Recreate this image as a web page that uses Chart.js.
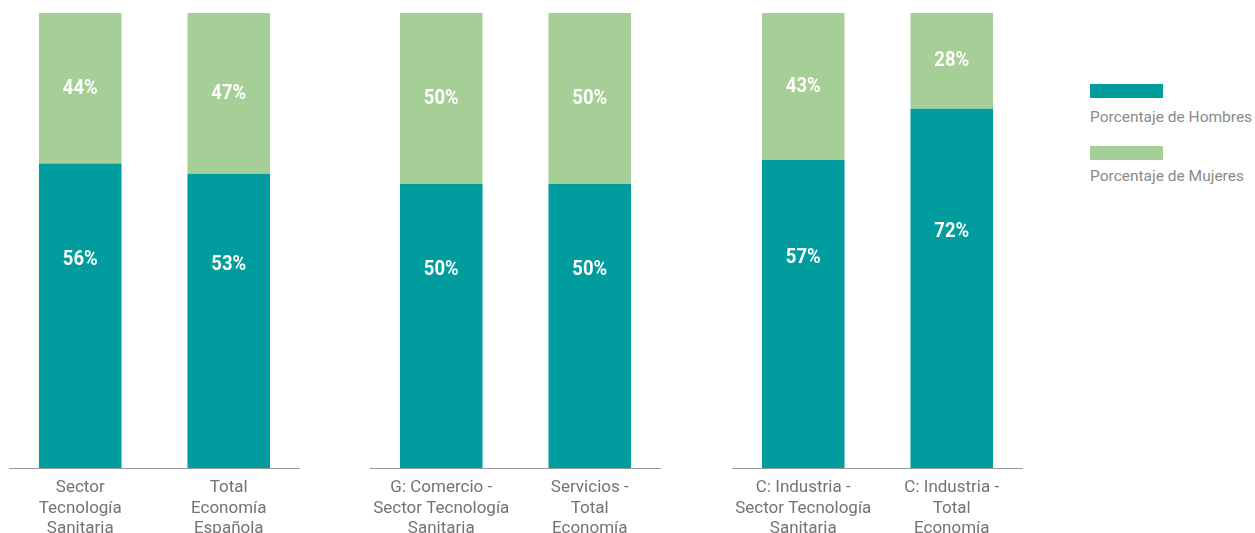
<!DOCTYPE html>
<html lang="es">
<head>
<meta charset="UTF-8">
<title>Porcentaje de hombres y mujeres</title>
<script src="https://cdn.jsdelivr.net/npm/chart.js"></script>
<style>
  html, body { margin: 0; padding: 0; background: #ffffff; overflow: hidden; }
  body { width: 1255px; height: 533px; position: relative; font-family: Roboto, "Noto Sans", sans-serif; }
  .panel { position: absolute; top: 0; }
  .swatch { position: absolute; width: 73px; height: 14px; }
  .legend-text { position: absolute; font-size: 15.5px; color: #8a8a8a; white-space: nowrap; line-height: 18px; }
</style>
</head>
<body>
  <div class="panel" style="left: 6px;"><canvas id="chart1" width="297" height="540"></canvas></div>
  <div class="panel" style="left: 367px;"><canvas id="chart2" width="297" height="540"></canvas></div>
  <div class="panel" style="left: 729px;"><canvas id="chart3" width="297" height="540"></canvas></div>

  <div class="swatch" style="left: 1090px; top: 84px; background: #009c9e;"></div>
  <div class="legend-text" style="left: 1090px; top: 108px;">Porcentaje de Hombres</div>
  <div class="swatch" style="left: 1090px; top: 146px; background: #a6cf98;"></div>
  <div class="legend-text" style="left: 1090px; top: 167px;">Porcentaje de Mujeres</div>

<script>
// categories per panel (multi-line tick labels)
const cats1 = [['Sector', 'Tecnología', 'Sanitaria'], ['Total', 'Economía', 'Española']];
const cats2 = [['G: Comercio -', 'Sector Tecnología', 'Sanitaria'], ['Servicios -', 'Total', 'Economía']];
const cats3 = [['C: Industria -', 'Sector Tecnología', 'Sanitaria'], ['C: Industria -', 'Total', 'Economía']];

// % hombres / % mujeres
const hombres1 = [56, 53];
const mujeres1 = [44, 47];
const hombres2 = [50, 50];
const mujeres2 = [50, 50];
const hombres3 = [57, 72];
const mujeres3 = [43, 28];

const TEAL = '#009c9e';
const GREEN = '#a6cf98';
const Y_MIN = -33;
const Y_MAX = 100;
const CANVAS_H = 540;
const AXIS_Y = 468;

// white percentage labels inside each segment (condensed look via horizontal squeeze)
const segmentLabels = {
  id: 'segmentLabels',
  afterDatasetsDraw(chart) {
    const ctx = chart.ctx;
    const yScale = chart.scales.y;
    const squeeze = 0.88;
    ctx.save();
    ctx.fillStyle = '#ffffff';
    ctx.font = 'bold 21px Roboto, sans-serif';
    ctx.textAlign = 'center';
    ctx.textBaseline = 'middle';
    chart.data.datasets.forEach((ds, di) => {
      const meta = chart.getDatasetMeta(di);
      meta.data.forEach((bar, i) => {
        const v = ds.data[i];
        const y = di === 0 ? yScale.getPixelForValue(v / 2) : (bar.y + bar.base) / 2;
        ctx.save();
        ctx.translate(bar.x, y);
        ctx.scale(squeeze, 1);
        ctx.fillText(v + '%', 0, 0);
        ctx.restore();
      });
    });
    ctx.restore();
  }
};

// baseline under the bars, slightly inset from the panel edges
const baseLine = {
  id: 'baseLine',
  afterDatasetsDraw(chart) {
    const { ctx, chartArea } = chart;
    const y = Math.round(chartArea.bottom) + 0.5;
    ctx.save();
    ctx.strokeStyle = '#9a9a9a';
    ctx.lineWidth = 1;
    ctx.beginPath();
    ctx.moveTo(chartArea.left + 3, y);
    ctx.lineTo(chartArea.right - 3, y);
    ctx.stroke();
    ctx.restore();
  }
};

function makeChart(id, labels, hombres, mujeres) {
  return new Chart(document.getElementById(id), {
    type: 'bar',
    data: {
      labels: labels,
      datasets: [
        { label: 'Porcentaje de Hombres', data: hombres, backgroundColor: TEAL, base: Y_MIN },
        { label: 'Porcentaje de Mujeres', data: mujeres, backgroundColor: GREEN }
      ]
    },
    options: {
      responsive: false,
      animation: false,
      events: [],
      layout: { padding: { top: 13, left: 0, right: 0, bottom: 0 } },
      datasets: { bar: { barPercentage: 0.556, categoryPercentage: 1 } },
      plugins: { legend: { display: false }, tooltip: { enabled: false } },
      scales: {
        x: {
          stacked: true,
          grid: { display: false, drawTicks: false },
          border: { display: false },
          ticks: {
            autoSkip: false,
            maxRotation: 0,
            padding: 10,
            color: '#737373',
            font: { family: 'Roboto', size: 17, lineHeight: 1.2 }
          },
          afterFit(axis) {
            axis.height = CANVAS_H - AXIS_Y;
            axis.paddingLeft = 0;
            axis.paddingRight = 0;
          }
        },
        y: { stacked: true, display: false, min: Y_MIN, max: Y_MAX }
      }
    },
    plugins: [segmentLabels, baseLine]
  });
}

makeChart('chart1', cats1, hombres1, mujeres1);
makeChart('chart2', cats2, hombres2, mujeres2);
makeChart('chart3', cats3, hombres3, mujeres3);
</script>
</body>
</html>
